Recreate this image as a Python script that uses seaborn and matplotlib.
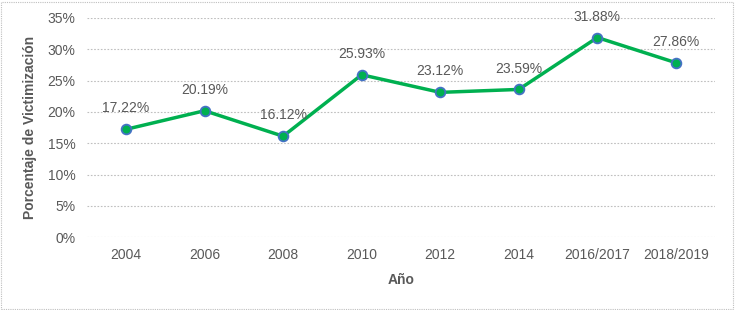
import pandas as pd
import numpy as np
import matplotlib
matplotlib.use("Agg")
import matplotlib.pyplot as plt
from matplotlib.patches import Rectangle
import seaborn as sns

years = ["2004", "2006", "2008", "2010", "2012", "2014", "2016/2017", "2018/2019"]
victim_pct = [17.22, 20.19, 16.12, 25.93, 23.12, 23.59, 31.88, 27.86]
y_ticks = [0, 5, 10, 15, 20, 25, 30, 35]

df = pd.DataFrame({"Año": years, "pct": victim_pct})

sns.set_style("white")
plt.rcParams["font.family"] = ["Liberation Sans", "DejaVu Sans"]
text_col = "#595959"

fig = plt.figure(figsize=(7.35, 3.10), dpi=100)
ax = fig.add_axes([0.118, 0.235, 0.855, 0.707])

sns.lineplot(data=df, x="Año", y="pct", ax=ax, color="#00B050", linewidth=2.5,
             marker="o", markersize=7, markerfacecolor="#00B050",
             markeredgecolor="#4472C4", markeredgewidth=1.3, sort=False)

for i, v in enumerate(victim_pct):
    ax.annotate(f"{v:.2f}%", (i, v), xytext=(0, 10), textcoords="offset points",
                ha="center", va="bottom", fontsize=10, color=text_col)

ax.set_xlim(-0.5, len(years) - 0.5)
ax.set_ylim(0, 35)
ax.set_yticks(y_ticks)
ax.set_yticklabels([f"{t}%" for t in y_ticks])
ax.grid(axis="y", color="#BFBFBF", linestyle=(0, (1.5, 1.5)), linewidth=0.8)
ax.grid(axis="x", visible=False)
for s in ax.spines.values():
    s.set_visible(False)
ax.tick_params(axis="both", length=0, labelsize=10, colors=text_col, pad=8)

ax.set_xlabel("Año", fontsize=10, fontweight="bold", color=text_col, labelpad=8)
ax.set_ylabel("Porcentaje de Victimización", fontsize=10, fontweight="bold",
              color=text_col, labelpad=8)

fig.patches.append(Rectangle((0.002, 0.004), 0.995, 0.99, transform=fig.transFigure,
                             fill=False, edgecolor="#BFBFBF", linestyle=(0, (1, 1)),
                             linewidth=0.8))

fig.savefig("out.png", dpi=100)
plt.close("all")
